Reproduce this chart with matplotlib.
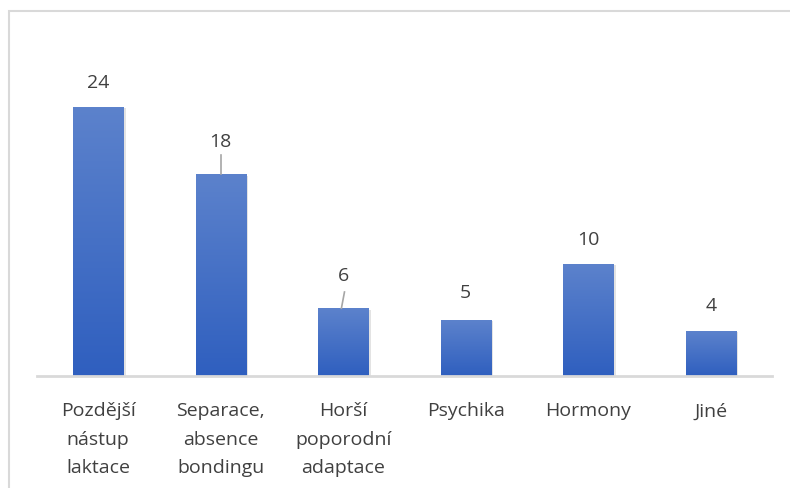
import numpy as np
import matplotlib.pyplot as plt
from matplotlib.colors import LinearSegmentedColormap
from matplotlib.patches import Rectangle

# Data
categories = ['Pozdější\nnástup\nlaktace', 'Separace,\nabsence\nbondingu',
              'Horší\npoporodní\nadaptace', 'Psychika', 'Hormony', 'Jiné']
values = [24, 18, 6, 5, 10, 4]

plt.rcParams['font.family'] = ['Open Sans', 'DejaVu Sans']

fig = plt.figure(figsize=(7.9, 4.88), dpi=100)
W, H = 790, 488
ax = fig.add_axes([37 / W, (H - 376) / H, 735 / W, 336 / H])

# chart border (light gray, runs off right/bottom)
fig.patches.append(Rectangle((8.5 / W, -0.1), 2, (H - 11.5) / H + 0.1,
                             transform=fig.transFigure, fill=False,
                             edgecolor='#d9d9d9', linewidth=1.5))

x = np.arange(len(categories))
bar_w = 0.41
ymax = 336 / 11.2
cmap = LinearSegmentedColormap.from_list('g', ['#2f5fbf', '#5c82cc'])
grad = np.linspace(0, 1, 256).reshape(-1, 1)

for xi, v in zip(x, values):
    # soft shadow
    ax.add_patch(Rectangle((xi - bar_w / 2 + 0.02, 0), bar_w, v - 0.1,
                           facecolor='#b0b0b0', alpha=0.35, linewidth=0, zorder=1))
    ax.imshow(grad, cmap=cmap, origin='lower', aspect='auto',
              extent=[xi - bar_w / 2, xi + bar_w / 2, 0, v], zorder=2)

ax.set_xlim(-0.5, len(categories) - 0.5)
ax.set_ylim(0, ymax)

# data labels
offsets = [2.2, 2.85, 2.95, 2.4, 2.15, 2.25]
for xi, v, off in zip(x, values, offsets):
    ax.text(xi, v + off, str(v), ha='center', va='center',
            fontsize=14, color='#404040')
# leader lines
ax.plot([1, 1], [18 + 0.05, 18 + 1.75], color='#a6a6a6', lw=1.2, zorder=3)
ax.plot([1.985, 2.01], [6 + 0.05, 6 + 1.5], color='#a6a6a6', lw=1.2, zorder=3)

for s in ['top', 'right', 'left']:
    ax.spines[s].set_visible(False)
ax.spines['bottom'].set_color('#d9d9d9')
ax.spines['bottom'].set_linewidth(2)
ax.set_yticks([])
ax.set_xticks(x)
ax.set_xticklabels(categories, fontsize=14, color='#404040', linespacing=1.75)
ax.tick_params(axis='x', length=0, pad=19)

fig.savefig('out.png', dpi=100)
